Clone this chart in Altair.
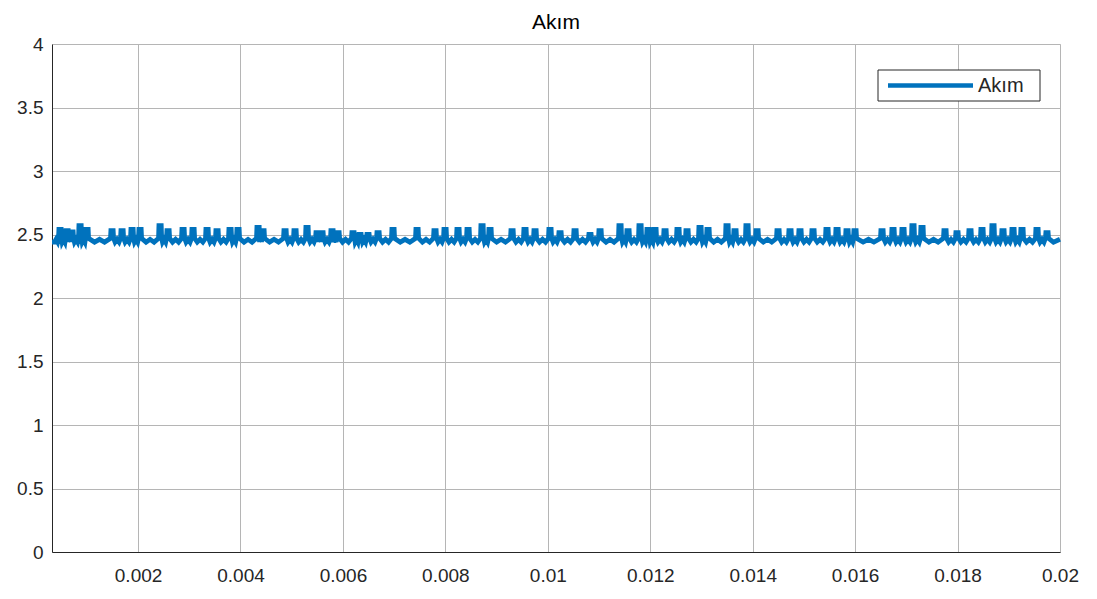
import altair as alt
import pandas as pd

# Spike times (s) and spike peak values (A)
spike_t = [0.000477, 0.000614, 0.000711, 0.000868, 0.001004, 0.001492, 0.001688, 0.001883,
           0.002039, 0.002430, 0.002586, 0.002879, 0.003074, 0.003347, 0.003542, 0.003796,
           0.003952, 0.004343, 0.004440, 0.004870, 0.005065, 0.005299, 0.005495, 0.005592,
           0.005787, 0.005905, 0.006197, 0.006334, 0.006490, 0.006686, 0.006978, 0.007447,
           0.007798, 0.007994, 0.008247, 0.008443, 0.008716, 0.008872, 0.009302, 0.009555,
           0.009751, 0.010043, 0.010239, 0.010532, 0.010824, 0.011020, 0.011410, 0.011566,
           0.011801, 0.011957, 0.012093, 0.012289, 0.012542, 0.012718, 0.012972, 0.013128,
           0.013499, 0.013655, 0.013889, 0.014085, 0.014495, 0.014729, 0.014924, 0.015178,
           0.015451, 0.015647, 0.015842, 0.015998, 0.016525, 0.016740, 0.016935, 0.017130,
           0.017306, 0.017755, 0.017989, 0.018243, 0.018477, 0.018692, 0.018887, 0.019083,
           0.019258, 0.019551, 0.019746]
spike_v = [2.54, 2.53, 2.52, 2.57, 2.54, 2.53, 2.53, 2.54,
           2.54, 2.57, 2.53, 2.54, 2.54, 2.54, 2.53, 2.54,
           2.54, 2.555, 2.53, 2.53, 2.53, 2.555, 2.515, 2.515,
           2.53, 2.515, 2.515, 2.50, 2.50, 2.515, 2.54, 2.54,
           2.53, 2.54, 2.54, 2.54, 2.57, 2.54, 2.53, 2.54,
           2.53, 2.54, 2.515, 2.53, 2.50, 2.53, 2.57, 2.53,
           2.57, 2.54, 2.54, 2.53, 2.54, 2.53, 2.555, 2.54,
           2.57, 2.53, 2.57, 2.53, 2.53, 2.53, 2.53, 2.53,
           2.54, 2.54, 2.53, 2.53, 2.53, 2.54, 2.54, 2.57,
           2.555, 2.53, 2.515, 2.53, 2.54, 2.57, 2.53, 2.54,
           2.54, 2.54, 2.515]
base_low = 2.44    # trough of the ripple between spikes
base_mid = 2.462   # crest of the ripple between spikes
base_high = 2.47   # foot of each spike
t_start, t_end = 0.00032, 0.02
half_top = 0.000022
half_foot = 0.00003

ts, vs = [t_start], [base_low]
prev = t_start
for t, v in zip(spike_t, spike_v):
    gap = t - prev
    ts += [prev + gap * 0.3, prev + gap * 0.5, prev + gap * 0.7]
    vs += [base_low, base_mid, base_low]
    ts += [t - half_foot, t - half_top, t + half_top, t + half_foot]
    vs += [base_high, v, v, base_high]
    prev = t
ts += [prev + (t_end - prev) * 0.5, t_end]
vs += [base_low, base_mid]

df = pd.DataFrame({"t": ts, "akim": vs})

x_ticks = [0.002, 0.004, 0.006, 0.008, 0.01, 0.012, 0.014, 0.016, 0.018, 0.02]
y_ticks = [0, 0.5, 1, 1.5, 2, 2.5, 3, 3.5, 4]

W, H = 1008, 508
FONT = "Liberation Sans"
LINE_COLOR = "#0072BD"
TXT = "#262626"

line = alt.Chart(df).mark_line(color=LINE_COLOR, strokeWidth=4.8, strokeJoin="miter").encode(
    x=alt.X("t:Q", scale=alt.Scale(domain=[t_start, t_end], nice=False, zero=False),
            axis=alt.Axis(values=x_ticks, format="~g", title=None, grid=True,
                          tickSize=0, labelPadding=14, labelFontSize=19,
                          labelFont=FONT, labelColor=TXT,
                          domainColor=TXT, gridColor="#b5b5b5",
                          labelFlush=False)),
    y=alt.Y("akim:Q", scale=alt.Scale(domain=[0, 4], nice=False),
            axis=alt.Axis(values=y_ticks, format="~g", title=None, grid=True,
                          tickSize=0, labelPadding=9, labelFontSize=19,
                          labelFont=FONT, labelColor=TXT,
                          domainColor=TXT, gridColor="#b5b5b5")),
)

legend_df = pd.DataFrame({"label": ["Akım"]})
leg_box = alt.Chart(legend_df).mark_rect(fill="white", stroke=TXT, strokeWidth=1).encode(
    x=alt.value(826), x2=alt.value(988), y=alt.value(26), y2=alt.value(57))
leg_line = alt.Chart(legend_df).mark_rule(color=LINE_COLOR, strokeWidth=4.5).encode(
    x=alt.value(836), x2=alt.value(921), y=alt.value(41.5))
leg_text = alt.Chart(legend_df).mark_text(align="left", baseline="middle", fontSize=20,
                                          font=FONT, color=TXT).encode(
    x=alt.value(926), y=alt.value(42), text="label:N")

chart = alt.layer(line, leg_box, leg_line, leg_text).properties(
    width=W, height=H,
    title=alt.TitleParams("Akım", fontSize=21, font=FONT, fontWeight="normal",
                          color="#000000", offset=2, anchor="middle"),
    autosize=alt.AutoSizeParams(type="none"),
    padding={"left": 44, "top": 36, "right": 20, "bottom": 36},
).configure_view(stroke=TXT, strokeWidth=1).configure(background="white")

chart.save("out.html", embed_options={"renderer": "svg", "actions": False})
